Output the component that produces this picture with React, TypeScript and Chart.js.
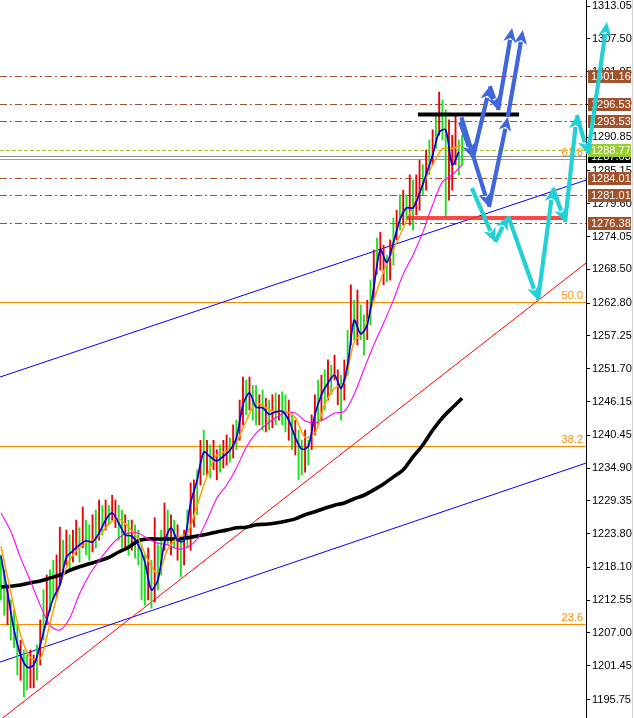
import React, { useEffect, useRef } from "react";
import { Chart, registerables } from "chart.js";

Chart.register(...registerables);

// ---------- axis ----------
const priceTicks = [1313.05, 1307.5, 1301.95, 1296.4, 1290.85, 1285.15, 1279.6, 1274.05, 1268.5, 1262.8, 1257.25, 1251.7, 1246.15, 1240.45, 1234.9, 1229.35, 1223.8, 1218.1, 1212.55, 1207.0, 1201.45, 1195.75];
const yMin = 1192.62;
const yMax = 1314.07;
const xMin = -0.3;
const xMax = 178.9;

// ---------- price bars (high / low, 1 = up bar) ----------
const barHigh = [
  1220.2, 1217.7, 1215.1, 1212.6, 1210.9, 1208.4, 1205.8, 1204.1, 1203.3, 1204.1,
  1203.3, 1205.0, 1209.2, 1214.3, 1216.8, 1217.7, 1219.3, 1220.2, 1224.9, 1222.7,
  1224.4, 1223.6, 1224.4, 1226.1, 1224.8, 1228.3, 1226.1, 1225.3, 1227.0, 1227.8,
  1229.5, 1228.6, 1229.5, 1228.6, 1230.3, 1229.5, 1228.6, 1227.8, 1227.0, 1226.1,
  1226.1, 1225.3, 1224.4, 1221.9, 1220.2, 1221.4, 1219.3, 1226.5, 1221.9, 1224.4,
  1229.0, 1227.8, 1227.0, 1226.1, 1225.3, 1223.2, 1224.4, 1227.8, 1232.4, 1232.9,
  1234.6, 1239.6, 1241.3, 1239.6, 1238.8, 1239.6, 1238.0, 1238.8, 1239.6, 1240.5,
  1240.0, 1242.2, 1243.0, 1246.4, 1250.3, 1249.8, 1250.3, 1248.9, 1248.9, 1247.3,
  1248.1, 1246.7, 1246.4, 1247.3, 1247.6, 1247.3, 1247.8, 1247.3, 1246.4, 1243.9,
  1243.0, 1241.3, 1239.6, 1241.3, 1239.6, 1243.9, 1247.3, 1249.8, 1250.6, 1251.5,
  1253.2, 1252.3, 1254.0, 1251.5, 1250.6, 1253.2, 1258.2, 1265.9, 1263.3, 1265.0,
  1262.5, 1260.8, 1263.3, 1266.7, 1271.8, 1273.8, 1274.8, 1272.6, 1270.9, 1273.5,
  1277.2, 1278.5, 1281.1, 1281.9, 1281.1, 1284.5, 1283.6, 1284.5, 1287.0, 1286.2,
  1288.7, 1290.4, 1292.1, 1294.6, 1298.5, 1297.2, 1295.5, 1293.8, 1291.2, 1294.6,
  1290.4, 1291.2,
];
const barLow = [
  1212.6, 1210.0, 1208.4, 1205.8, 1204.5, 1199.9, 1199.0, 1196.2, 1197.4, 1197.7,
  1197.7, 1199.0, 1201.6, 1205.8, 1208.4, 1210.6, 1212.6, 1212.9, 1215.1, 1216.8,
  1218.5, 1217.7, 1219.0, 1220.2, 1219.0, 1221.4, 1220.2, 1219.3, 1220.7, 1221.4,
  1222.7, 1223.6, 1224.4, 1225.3, 1226.1, 1224.8, 1222.7, 1221.4, 1221.0, 1220.2,
  1221.0, 1219.7, 1218.5, 1212.6, 1211.7, 1212.6, 1211.2, 1212.2, 1214.3, 1216.8,
  1221.0, 1221.9, 1220.2, 1221.4, 1219.3, 1216.5, 1218.5, 1221.4, 1221.0, 1224.9,
  1227.0, 1232.0, 1233.7, 1233.7, 1233.2, 1234.6, 1232.9, 1234.2, 1234.9, 1235.4,
  1235.9, 1236.6, 1238.0, 1239.6, 1242.2, 1243.9, 1244.7, 1243.0, 1242.2, 1242.2,
  1241.3, 1241.0, 1241.3, 1241.7, 1242.2, 1243.0, 1242.2, 1241.0, 1239.6, 1238.0,
  1237.1, 1232.9, 1233.7, 1234.2, 1235.4, 1238.0, 1240.5, 1242.2, 1243.0, 1244.7,
  1246.4, 1247.3, 1249.8, 1245.6, 1243.0, 1246.4, 1250.6, 1255.7, 1256.6, 1255.7,
  1256.6, 1254.0, 1256.6, 1259.1, 1263.3, 1267.6, 1268.4, 1265.9, 1266.4, 1266.7,
  1269.2, 1273.5, 1275.2, 1276.0, 1276.9, 1276.0, 1275.2, 1277.7, 1278.5, 1281.1,
  1281.9, 1284.5, 1286.2, 1289.0, 1291.2, 1290.4, 1277.2, 1280.2, 1281.9, 1286.2,
  1284.5, 1286.2,
];
const barUp = [
  1, 1, 0, 1, 1, 1, 0, 1, 1, 0,
  0, 1, 0, 1, 0, 1, 1, 0, 0, 1,
  0, 1, 0, 0, 1, 0, 1, 1, 0, 1,
  0, 1, 0, 1, 0, 0, 1, 1, 0, 1,
  0, 1, 1, 1, 1, 0, 1, 0, 1, 1,
  0, 1, 0, 1, 0, 1, 0, 1, 0, 0,
  1, 0, 1, 0, 1, 0, 0, 1, 0, 0,
  1, 0, 1, 0, 0, 1, 0, 1, 1, 0,
  1, 0, 1, 0, 1, 0, 1, 1, 0, 1,
  0, 1, 1, 0, 1, 0, 0, 1, 0, 1,
  0, 1, 0, 0, 1, 0, 1, 0, 1, 0,
  1, 1, 0, 1, 0, 1, 0, 0, 1, 0,
  1, 0, 1, 0, 1, 0, 1, 0, 0, 1,
  0, 1, 0, 1, 0, 1, 1, 0, 0, 0,
  1, 1,
];

// ---------- moving averages ----------
const slowStride = 3; // one value every 3 bars
const maBlack = [
  1214.8, 1214.9, 1215.1, 1215.5, 1215.8, 1216.3, 1216.8, 1217.6, 1218.2, 1218.7,
  1219.2, 1219.8, 1220.7, 1221.5, 1222.6, 1222.9, 1222.9, 1222.9, 1222.9, 1223.1,
  1223.4, 1223.7, 1224.1, 1224.4, 1224.8, 1224.9, 1225.3, 1225.4, 1225.6, 1225.9,
  1226.3, 1227.0, 1227.5, 1228.1, 1228.6, 1229.0, 1229.7, 1230.3, 1231.2, 1232.2,
  1233.4, 1234.6, 1236.8, 1238.8, 1241.3, 1243.4, 1245.1, 1246.7,
];
const maMagenta = [
  1227.3, 1224.2, 1219.7, 1215.8, 1211.7, 1208.3, 1207.5, 1209.5, 1213.6, 1216.8,
  1219.2, 1221.4, 1223.1, 1223.9, 1223.9, 1222.9, 1222.2, 1221.9, 1221.2, 1221.5,
  1222.9, 1226.1, 1229.8, 1232.0, 1234.9, 1238.4, 1240.8, 1242.2, 1243.4, 1244.2,
  1244.2, 1242.9, 1242.5, 1243.2, 1244.2, 1244.5, 1247.4, 1251.6, 1255.7, 1259.4,
  1263.3, 1267.7, 1270.9, 1274.8, 1279.4, 1283.3, 1284.5, 1286.2,
];
const maOrange = [
  1221.7, 1213.9, 1206.7, 1202.8, 1202.6, 1208.7, 1214.9, 1219.3, 1221.5, 1222.4,
  1223.4, 1225.4, 1226.3, 1224.9, 1222.9, 1219.3, 1217.1, 1221.2, 1223.1, 1223.9,
  1228.6, 1233.5, 1237.1, 1237.8, 1239.3, 1242.9, 1245.9, 1245.1, 1244.4, 1244.5,
  1243.4, 1240.1, 1240.8, 1245.6, 1248.4, 1249.4, 1256.2, 1258.2, 1263.3, 1268.1,
  1271.8, 1275.5, 1279.2, 1282.8, 1286.2, 1288.9, 1289.0, 1289.5,
];
const fastStride = 2; // one value every 2 bars
const maBlue = [
  1220.0, 1213.9, 1207.5, 1203.3, 1201.2, 1201.6, 1205.0, 1209.2, 1212.9, 1215.1,
  1219.8, 1220.9, 1221.9, 1222.6, 1222.4, 1223.9, 1226.1, 1227.3, 1225.6, 1223.6,
  1223.4, 1221.9, 1219.0, 1214.3, 1216.0, 1222.2, 1224.8, 1222.7, 1222.6, 1229.0,
  1232.9, 1237.6, 1236.8, 1236.1, 1236.9, 1237.9, 1240.0, 1245.6, 1247.6, 1245.2,
  1245.1, 1244.0, 1244.4, 1244.5, 1243.0, 1240.1, 1238.1, 1238.6, 1243.9, 1247.3,
  1249.3, 1250.6, 1248.4, 1252.3, 1259.9, 1257.6, 1259.1, 1265.4, 1271.8, 1269.7,
  1273.0, 1276.9, 1278.9, 1278.9, 1281.4, 1284.5, 1287.8, 1291.7, 1292.1, 1286.2,
  1288.4,
];

// ---------- horizontal levels ----------
const levelPrices = [1301.16, 1296.53, 1293.53, 1284.01, 1281.01, 1276.38];
const signalPrice = 1288.77;
const lastPrice = 1287.63;
const fiboNames = ["61.8", "50.0", "38.2", "23.6"];
const fiboPrices = [1287.17, 1262.98, 1238.63, 1208.52];

// ---------- trend lines (bar index, price) ----------
const channelUpper = [[-0.3, 1250.29], [178.9, 1283.61]];
const channelLower = [[-0.3, 1202.08], [178.9, 1235.74]];
const redTrend = [[-0.3, 1192.27], [178.9, 1269.57]];
const blackZone = [[127.5, 1294.7], [158.4, 1294.7]];
const redZone = [[124.2, 1277.19], [171.9, 1277.19]];

// ---------- projection arrows (bar index, price) ----------
const blueArrowPaths = [
  [[140.4, 1293.42], [144.3, 1287.33], [149.5, 1299.51], [152.0, 1295.45], [156.3, 1309.32]],
  [[140.8, 1294.2], [149.2, 1279.05], [155.0, 1294.3], [159.6, 1308.99]],
];
const cyanArrowPaths = [
  [[144.0, 1282.26], [151.1, 1273.13], [155.1, 1277.52], [164.2, 1263.31], [168.8, 1282.26], [172.5, 1276.51], [176.1, 1294.61], [179.5, 1288.01], [185.3, 1310.34]],
];

const GREEN = "#19e019";
const RED = "#ee0000";
const BROWN = "#a0522d";
const ORANGE = "#ff8c00";
const FONT = "11px 'Liberation Sans', Arial, sans-serif";

function drawArrowSeg(ctx: CanvasRenderingContext2D, x1: number, y1: number, x2: number, y2: number, color: string) {
  const dx = x2 - x1;
  const dy = y2 - y1;
  const len = Math.hypot(dx, dy);
  if (len < 1) return;
  const ux = dx / len;
  const uy = dy / len;
  const head = 14;
  const half = 6.5;
  const bx = x2 - ux * head;
  const by = y2 - uy * head;
  ctx.strokeStyle = color;
  ctx.fillStyle = color;
  ctx.lineWidth = 4.2;
  ctx.lineCap = "butt";
  ctx.beginPath();
  ctx.moveTo(x1, y1);
  ctx.lineTo(bx + ux * 2, by + uy * 2);
  ctx.stroke();
  ctx.beginPath();
  ctx.moveTo(x2, y2);
  ctx.lineTo(bx - uy * half, by + ux * half);
  ctx.lineTo(bx + ux * 4, by + uy * 4);
  ctx.lineTo(bx + uy * half, by - ux * half);
  ctx.closePath();
  ctx.fill();
}

const overlayPlugin = {
  id: "overlay",
  beforeDatasetsDraw(chart: any) {
    const { ctx, chartArea: a, scales } = chart;
    const xs = scales.x;
    const ys = scales.y;
    ctx.save();
    ctx.beginPath();
    ctx.rect(a.left, a.top, a.right - a.left, a.bottom - a.top);
    ctx.clip();
    const hline = (p: number, color: string, dash: number[], w = 1) => {
      const y = Math.round(ys.getPixelForValue(p)) + 0.5;
      ctx.strokeStyle = color;
      ctx.lineWidth = w;
      ctx.setLineDash(dash);
      ctx.beginPath();
      ctx.moveTo(a.left, y);
      ctx.lineTo(a.right, y);
      ctx.stroke();
    };
    levelPrices.forEach((p) => hline(p, BROWN, [7, 3, 2, 3]));
    hline(signalPrice, "#9acd32", [4, 2]);
    hline(lastPrice, "#8c8c8c", []);
    fiboPrices.forEach((p) => hline(p, ORANGE, [], 1.2));
    ctx.setLineDash([]);
    const seg = (pts: number[][], color: string, w: number) => {
      ctx.strokeStyle = color;
      ctx.lineWidth = w;
      ctx.beginPath();
      ctx.moveTo(xs.getPixelForValue(pts[0][0]), ys.getPixelForValue(pts[0][1]));
      ctx.lineTo(xs.getPixelForValue(pts[1][0]), ys.getPixelForValue(pts[1][1]));
      ctx.stroke();
    };
    seg(channelUpper, "#0000ff", 1);
    seg(channelLower, "#0000ff", 1);
    seg(redTrend, "#ff0000", 1);
    // fibo labels
    ctx.font = FONT;
    ctx.fillStyle = ORANGE;
    ctx.textAlign = "right";
    ctx.textBaseline = "alphabetic";
    fiboPrices.forEach((p, i) => {
      ctx.fillText(fiboNames[i], a.right - 3, ys.getPixelForValue(p) - 3);
    });
    ctx.restore();
  },
  afterDatasetsDraw(chart: any) {
    const { ctx, scales } = chart;
    const xs = scales.x;
    const ys = scales.y;
    ctx.save();
    const zone = (pts: number[][], color: string, w: number) => {
      ctx.strokeStyle = color;
      ctx.lineWidth = w;
      ctx.beginPath();
      ctx.moveTo(xs.getPixelForValue(pts[0][0]), ys.getPixelForValue(pts[0][1]));
      ctx.lineTo(xs.getPixelForValue(pts[1][0]), ys.getPixelForValue(pts[1][1]));
      ctx.stroke();
    };
    zone(redZone, "rgba(255,40,40,0.85)", 4);
    zone(blackZone, "#000000", 4);
    ctx.restore();
  },
  afterDraw(chart: any) {
    const { ctx, chartArea: a, scales } = chart;
    const xs = scales.x;
    const ys = scales.y;
    ctx.save();
    // price label boxes
    const box = (p: number, bg: string) => {
      const y = Math.round(ys.getPixelForValue(p));
      ctx.fillStyle = bg;
      ctx.fillRect(a.right + 2, y - 6, 43, 13);
      ctx.fillStyle = "#ffffff";
      ctx.font = FONT;
      ctx.textAlign = "left";
      ctx.textBaseline = "middle";
      ctx.fillText(p.toFixed(2), a.right + 5, y + 1);
    };
    levelPrices.forEach((p) => box(p, BROWN));
    box(lastPrice, "#000000");
    box(signalPrice, "#9acd32");
    // window edge
    ctx.strokeStyle = "#d4d4d4";
    ctx.lineWidth = 1;
    ctx.beginPath();
    ctx.moveTo(632.5, 0);
    ctx.lineTo(632.5, 718);
    ctx.stroke();
    // arrows
    const drawPaths = (paths: number[][][], color: string) => {
      paths.forEach((path) => {
        for (let i = 0; i < path.length - 1; i++) {
          drawArrowSeg(
            ctx,
            xs.getPixelForValue(path[i][0]),
            ys.getPixelForValue(path[i][1]),
            xs.getPixelForValue(path[i + 1][0]),
            ys.getPixelForValue(path[i + 1][1]),
            color
          );
        }
      });
    };
    drawPaths(cyanArrowPaths, "#22d0d6");
    drawPaths(blueArrowPaths, "#3f66dc");
    ctx.restore();
  },
};

export default function App() {
  const ref = useRef<HTMLCanvasElement>(null);
  useEffect(() => {
    const canvas = ref.current;
    if (!canvas) return;
    const bars = barHigh.map((h, i) => ({ x: i, y: [barLow[i], h] }));
    const barColors = barUp.map((u) => (u ? GREEN : RED));
    const pts = (arr: number[], stride: number) => arr.map((v, k) => ({ x: k * stride, y: v }));
    const lineDs = (arr: number[], stride: number, color: string, w: number, order: number) => ({
      type: "line" as const,
      data: pts(arr, stride),
      borderColor: color,
      borderWidth: w,
      pointRadius: 0,
      tension: 0.3,
      fill: false,
      order,
    });
    const chart = new Chart(canvas, {
      type: "bar",
      data: {
        datasets: [
          lineDs(maBlue, fastStride, "#0000dd", 1.7, 1),
          lineDs(maOrange, slowStride, "#ffa000", 1.5, 2),
          lineDs(maMagenta, slowStride, "#ff00ff", 1.1, 3),
          lineDs(maBlack, slowStride, "#000000", 3.6, 4),
          {
            type: "bar" as const,
            data: bars as any,
            backgroundColor: barColors,
            barThickness: 1.2,
            grouped: false,
            order: 10,
          } as any,
        ],
      },
      options: {
        animation: false,
        responsive: false,
        maintainAspectRatio: false,
        devicePixelRatio: 1,
        events: [],
        layout: { padding: 0 },
        plugins: { legend: { display: false }, tooltip: { enabled: false } },
        scales: {
          x: {
            type: "linear",
            min: xMin,
            max: xMax,
            display: false,
            offset: false,
          },
          y: {
            type: "linear",
            position: "right",
            min: yMin,
            max: yMax,
            afterBuildTicks: (s: any) => {
              s.ticks = priceTicks.map((v) => ({ value: v }));
            },
            afterFit: (s: any) => {
              s.width = 48;
              s.paddingTop = 0;
              s.paddingBottom = 0;
            },
            ticks: {
              autoSkip: false,
              color: "#000000",
              padding: 2,
              font: { family: "'Liberation Sans', Arial, sans-serif", size: 11 },
              callback: (v: any) => Number(v).toFixed(2),
            },
            grid: { drawOnChartArea: false, drawTicks: true, tickLength: 4, color: "#000000" },
            border: { display: true, color: "#000000", width: 1 },
          },
        },
      } as any,
      plugins: [overlayPlugin],
    });
    return () => chart.destroy();
  }, []);
  return (
    <div style={{ position: "fixed", left: 0, top: 0, width: 634, height: 718, background: "#ffffff" }}>
      <canvas ref={ref} width={634} height={718} style={{ width: 634, height: 718, display: "block" }} />
    </div>
  );
}
